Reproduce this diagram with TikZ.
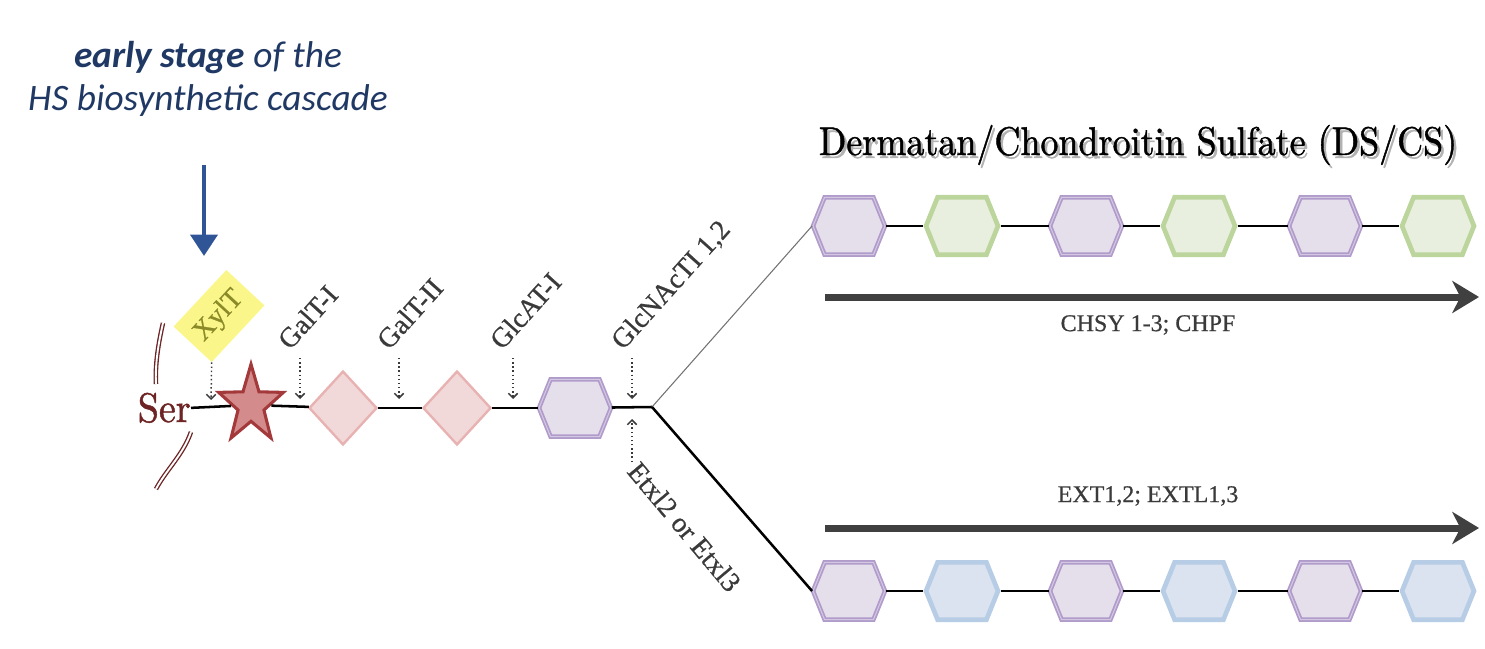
\documentclass[tikz,border=0pt]{standalone}
\usepackage{fontspec}
\usepackage{graphicx}
\usetikzlibrary{shapes.geometric,shapes.symbols,arrows.meta}
\newfontfamily\calibfont{Carlito}
\newfontfamily\labfont[FakeBold=0.7]{Liberation Serif}
\newfontfamily\serfont[FakeBold=1.2]{Latin Modern Roman}
\definecolor{ttlblue}{HTML}{1F3864}
\definecolor{arrblue}{HTML}{2F5597}
\definecolor{serred}{HTML}{6E2424}
\definecolor{starfill}{HTML}{D48B8B}
\definecolor{stardraw}{HTML}{A3393B}
\definecolor{pinkfill}{HTML}{F2D9D9}
\definecolor{pinkdraw}{HTML}{E8B2B2}
\definecolor{purfill}{HTML}{E5DFEC}
\definecolor{purdraw}{HTML}{B09BCA}
\definecolor{purmid}{HTML}{D3C8E2}
\definecolor{grnfill}{HTML}{E9EFDF}
\definecolor{grndraw}{HTML}{BCD59C}
\definecolor{blufill}{HTML}{DAE3EF}
\definecolor{bludraw}{HTML}{B7CCE5}
\definecolor{yelfill}{HTML}{FAF68A}
\definecolor{yeltext}{HTML}{8A8A28}
\definecolor{labgray}{HTML}{3A3A3A}
\definecolor{bigarr}{HTML}{404040}
\begin{document}
\begin{tikzpicture}[x=0.75pt,y=-0.75pt,
  hexbase/.style={signal, signal to=west and east, signal pointer angle=136,
    minimum width=54pt, minimum height=43pt, inner sep=0pt},
  purhex/.style={hexbase, fill=purfill, draw=purdraw, line width=1.3pt, double=purmid, double distance=0.8pt},
  grnhex/.style={hexbase, fill=grnfill, draw=grndraw, line width=3.5pt},
  bluhex/.style={hexbase, fill=blufill, draw=bludraw, line width=3.5pt},
  pinkdia/.style={diamond, minimum width=51pt, minimum height=55.5pt, inner sep=0pt, fill=pinkfill, draw=pinkdraw, line width=1.8pt},
  chainln/.style={draw=black, line width=1.9pt},
  linkln/.style={draw=black, line width=2pt},
  thinln/.style={draw=black!55, line width=0.8pt},
  dotarrow/.style={dotted, line width=1.1pt, draw=labgray, -{Straight Barb[length=3.5pt,width=7pt]}},
  lab/.style={font=\labfont\fontsize{21}{21}\selectfont, text=labgray, inner sep=0pt},
  arrlab/.style={font=\labfont\fontsize{18}{18}\selectfont, text=labgray, inner sep=0pt},
  bigarrow/.style={draw=bigarr, line width=5.25pt, -{Stealth[length=20pt,width=24pt,inset=6pt]}},
  serarc/.style={draw=serred, line width=1pt, double=white, double distance=1.4pt}
]
\useasboundingbox (0,0) rectangle (1485,649);

% title
\node[font=\calibfont\itshape\fontsize{28}{32.5}\selectfont, text=ttlblue, align=center] (title) at (208,79)
  {\textbf{early stage} of the\\HS biosynthetic cascade};
\coordinate (ba1) at (204,165);
\coordinate (ba2) at (204,256);
\draw[line width=3.6pt, draw=arrblue, -{Triangle[length=16pt,width=20pt]}] (ba1) -- (ba2);

% Ser
\node[text=serred, inner sep=0pt, anchor=base east, font=\serfont] (ser) at (191,422) {\scalebox{2.85}[3.1]{Ser}};
\draw[serarc] (163,323) .. controls (158,345) and (155,365) .. (156,384);
\draw[serarc] (191,432) .. controls (183,455) and (166,470) .. (156,489);

% linkage region
\node[star, star points=5, star point ratio=2.5, minimum size=51pt, inner sep=0pt, yscale=1.2, transform shape,
  fill=starfill, draw=stardraw, line width=2.3pt] (star) at (251,405) {};
\node[pinkdia] (d1) at (343,408) {};
\node[pinkdia] (d2) at (457,408) {};
\node[purhex] (h0) at (575,408) {};
\coordinate (br) at (652,407);

\draw[chainln] (ser.east) -- (star);
\draw[chainln] (star) -- (d1);
\draw[chainln] (d1) -- (d2);
\draw[chainln] (d2) -- (h0);
\draw[chainln] (h0) -- (br);

% XylT
\node[rectangle, rotate=47, minimum width=58pt, minimum height=39pt, inner sep=0pt, fill=yelfill,
  font=\labfont\fontsize{21}{21}\selectfont, text=yeltext] (xyl) at (219,316) {XylT};
\coordinate (ax0) at (211,400);
\draw[dotarrow] (xyl.south west) -- (ax0);

% enzyme labels
\node[lab, rotate=48, anchor=base west] (galt1) at (290,351) {GalT-I};
\node[lab, rotate=48, anchor=base west] (galt2) at (389,351) {GalT-II};
\node[lab, rotate=48, anchor=base west] (glcat) at (502,351) {GlcAT-I};
\node[lab, rotate=48, anchor=base west] (glcnac) at (623,351) {GlcNAcTI 1,2};
\node[lab, rotate=-50, anchor=base west] (etxl) at (626,472) {Etxl2 or Etxl3};

\coordinate (g1a) at (300,358); \coordinate (g1b) at (300,399);
\coordinate (g2a) at (399,358); \coordinate (g2b) at (399,399);
\coordinate (g3a) at (513,358); \coordinate (g3b) at (513,399);
\coordinate (g4a) at (632,358); \coordinate (g4b) at (632,399);
\coordinate (e1a) at (632,462); \coordinate (e1b) at (632,419);
\draw[dotarrow] (g1a) -- (g1b);
\draw[dotarrow] (g2a) -- (g2b);
\draw[dotarrow] (g3a) -- (g3b);
\draw[dotarrow] (g4a) -- (g4b);
\draw[dotarrow] (e1a) -- (e1b);

% DS/CS title
\node[text=black!30, inner sep=0pt, font=\serfont] (dsshadow) at (1140.5,148) {\scalebox{2.7}[3.0]{Dermatan/Chondroitin Sulfate (DS/CS)}};
\node[text=black, inner sep=0pt, font=\serfont] (dstitle) at (1138,145) {\scalebox{2.7}[3.0]{Dermatan/Chondroitin Sulfate (DS/CS)}};

% top chain
\node[purhex] (t1) at (849,226) {};
\node[grnhex] (t2) at (962,226) {};
\node[purhex] (t3) at (1086,226) {};
\node[grnhex] (t4) at (1199,226) {};
\node[purhex] (t5) at (1325,226) {};
\node[grnhex] (t6) at (1438,226) {};
\draw[linkln] (t1) -- (t2);
\draw[linkln] (t2) -- (t3);
\draw[linkln] (t3) -- (t4);
\draw[linkln] (t4) -- (t5);
\draw[linkln] (t5) -- (t6);

% bottom chain
\node[purhex] (b1) at (849,591) {};
\node[bluhex] (b2) at (962,591) {};
\node[purhex] (b3) at (1086,591) {};
\node[bluhex] (b4) at (1199,591) {};
\node[purhex] (b5) at (1325,591) {};
\node[bluhex] (b6) at (1438,591) {};
\draw[linkln] (b1) -- (b2);
\draw[linkln] (b2) -- (b3);
\draw[linkln] (b3) -- (b4);
\draw[linkln] (b4) -- (b5);
\draw[linkln] (b5) -- (b6);

% branches
\draw[thinln] (br) -- (t1.west);
\draw[chainln] (br) -- (b1.west);

% polymerisation arrows
\coordinate (ta1) at (825,297); \coordinate (ta2) at (1479,297);
\coordinate (ua1) at (825,528); \coordinate (ua2) at (1479,528);
\draw[bigarrow] (ta1) -- (ta2);
\draw[bigarrow] (ua1) -- (ua2);
\node[arrlab] (chsy) at (1148,325) {CHSY 1-3; CHPF};
\node[arrlab] (ext) at (1148,496) {EXT1,2; EXTL1,3};
\end{tikzpicture}
\end{document}
